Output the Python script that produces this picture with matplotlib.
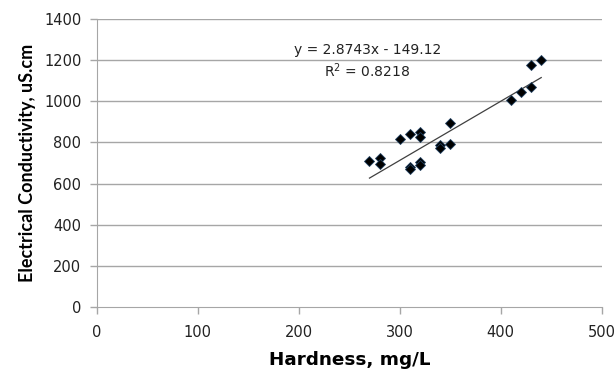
import numpy as np
import matplotlib
matplotlib.use("Agg")
import matplotlib.pyplot as plt

hardness = [270, 280, 280, 300, 310, 310, 310, 320, 320, 320, 320, 340, 340, 350, 350, 410, 420, 430, 430, 440]
conductivity = [710, 725, 695, 815, 840, 680, 670, 850, 825, 705, 690, 790, 775, 795, 895, 1005, 1045, 1070, 1175, 1200]
slope, intercept = 2.8743, -149.12
r2 = 0.8218

x_ticks = [0, 100, 200, 300, 400, 500]
y_ticks = [0, 200, 400, 600, 800, 1000, 1200, 1400]

fig = plt.figure(figsize=(6.16, 3.81), dpi=100)
ax = fig.add_axes([0.157, 0.194, 0.820, 0.756])

grid_color = "#a6a6a6"
for yv in y_ticks[1:]:
    ax.axhline(yv, color=grid_color, lw=1.0, zorder=0)

ax.plot(hardness, conductivity, linestyle="none", marker="D", markersize=5.5,
        markerfacecolor="black", markeredgecolor="#1f3f5f", markeredgewidth=0.6, zorder=3)

# linear trendline over data range
xs = np.array([min(hardness), max(hardness)])
ax.plot(xs, slope * xs + intercept, color="#404040", lw=0.9, zorder=2)

ax.text(268, 1250, "y = 2.8743x - 149.12", ha="center", va="center",
        fontsize=10, family="DejaVu Sans", color="#222222")
ax.text(268, 1150, "R$^2$ = %.4f" % r2, ha="center", va="center",
        fontsize=10, family="DejaVu Sans", color="#222222")

ax.set_xlim(0, 500)
ax.set_ylim(0, 1400)
ax.set_xticks(x_ticks)
ax.set_yticks(y_ticks)
for lab in ax.get_xticklabels() + ax.get_yticklabels():
    lab.set_family("DejaVu Sans")
    lab.set_fontsize(10.5)
    lab.set_color("#222222")

ax.spines["top"].set_visible(False)
ax.spines["right"].set_visible(False)
ax.spines["left"].set_color(grid_color)
ax.spines["bottom"].set_color(grid_color)
ax.tick_params(axis="both", color=grid_color, length=5, width=1, direction="out")
ax.tick_params(axis="x", pad=8)
ax.tick_params(axis="y", pad=6)

ax.set_xlabel("Hardness, mg/L", fontsize=13.2, fontweight="bold",
              family="DejaVu Sans", labelpad=8)
ax.set_ylabel("Electrical Conductivity, uS.cm", fontsize=13, fontweight="bold",
              family="Lato", labelpad=6)

fig.savefig("out.png", dpi=100)
